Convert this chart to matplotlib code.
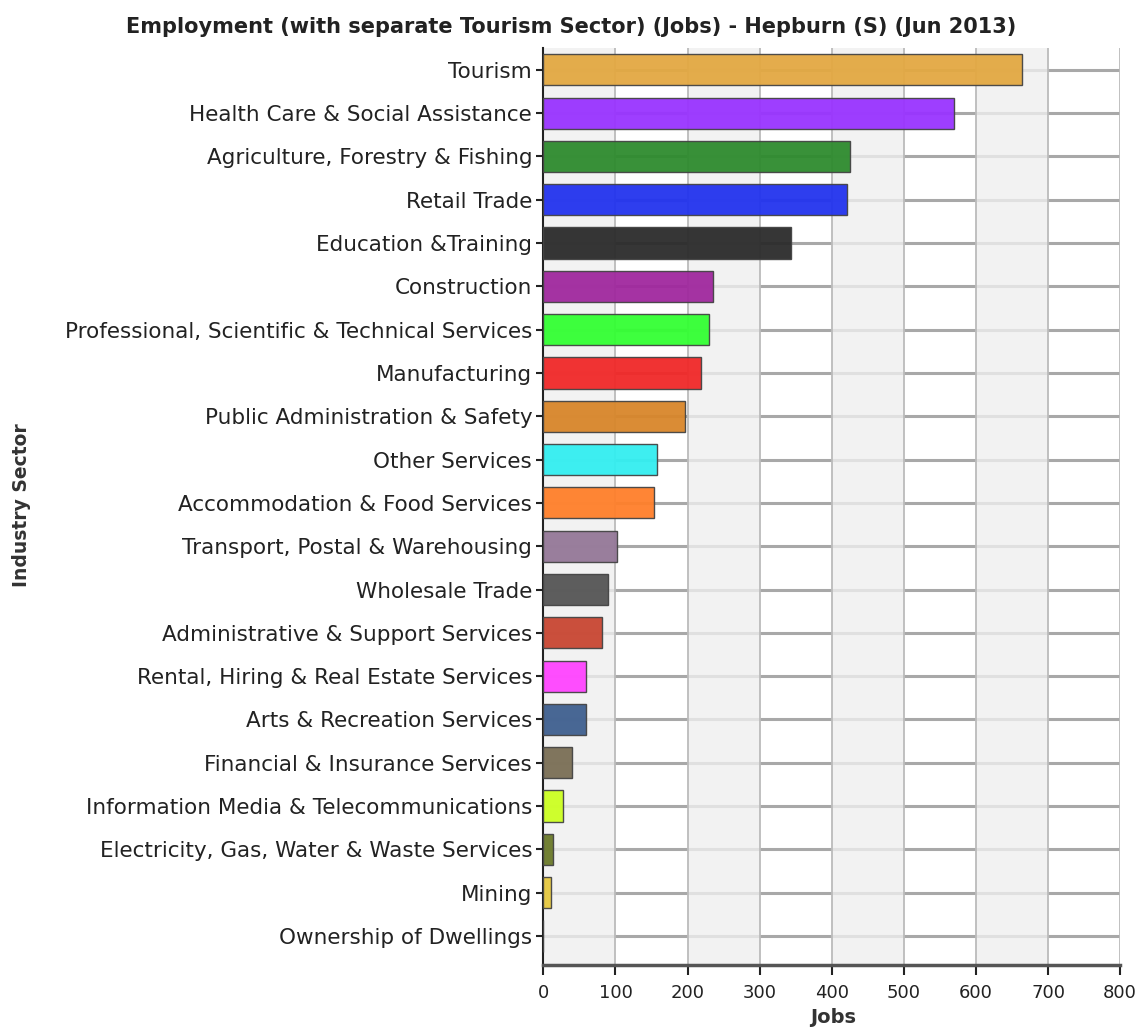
import matplotlib
matplotlib.use("Agg")
import matplotlib.pyplot as plt
import numpy as np

plt.rcParams['font.family'] = ['DejaVu Sans']

# jobs per industry sector, Hepburn (S), June 2013
sectors = [
    "Tourism",
    "Health Care & Social Assistance",
    "Agriculture, Forestry & Fishing",
    "Retail Trade",
    "Education &Training",
    "Construction",
    "Professional, Scientific & Technical Services",
    "Manufacturing",
    "Public Administration & Safety",
    "Other Services",
    "Accommodation & Food Services",
    "Transport, Postal & Warehousing",
    "Wholesale Trade",
    "Administrative & Support Services",
    "Rental, Hiring & Real Estate Services",
    "Arts & Recreation Services",
    "Financial & Insurance Services",
    "Information Media & Telecommunications",
    "Electricity, Gas, Water & Waste Services",
    "Mining",
    "Ownership of Dwellings",
]
jobs = [664, 569, 426, 421, 344, 236, 230, 219, 197, 157, 154,
        102, 89, 81, 59, 59, 40, 27, 13, 10, 0]
colours = [
    "#E3A842", "#9933FF", "#2E8B2E", "#2233EE", "#2B2B2B", "#A0289E",
    "#33FF33", "#F02828", "#D8862A", "#33EEF0", "#FF7F2A", "#947898",
    "#555555", "#C84632", "#FF44FF", "#3F5F8F", "#7A6E55", "#CCFF22",
    "#6B7A2A", "#E6C840", "#FFFFFF",
]
xticks = [0, 100, 200, 300, 400, 500, 600, 700, 800]

fig = plt.figure(figsize=(11.36, 10.29), dpi=100)
ax = fig.add_axes([0.4783, 0.0622, 0.5077, 0.891])

y = np.arange(len(sectors))

# row lines sit under the shaded columns so they fade inside them
for yy in y:
    ax.axhline(yy, color="#A8A8A8", lw=2.2, zorder=0.5)
for i in range(0, len(xticks) - 1, 2):
    ax.axvspan(xticks[i], xticks[i + 1], color="#EFEFEF", alpha=0.8, lw=0, zorder=1)
for x in xticks[1:]:
    ax.axvline(x, color="#BBBBBB", lw=1.3, zorder=1.5)

ax.barh(y, jobs, height=0.72, color=colours, edgecolor="#444444",
        linewidth=1.0, alpha=0.95, zorder=3)

ax.set_xlim(0, 800)
ax.set_ylim(len(sectors) - 0.33, -0.5)
ax.set_xticks(xticks)
ax.set_xticklabels([str(v) for v in xticks], fontsize=13, color="#222222")
ax.set_yticks(y)
ax.set_yticklabels(sectors, fontsize=15.5, color="#222222")
ax.tick_params(axis="y", length=5, width=1.5, color="#222222", pad=3)
ax.tick_params(axis="x", length=7, width=1.5, color="#222222", pad=7)

for side in ["top", "right"]:
    ax.spines[side].set_visible(False)
ax.spines["left"].set_color("#222222")
ax.spines["left"].set_linewidth(1.5)
ax.spines["bottom"].set_color("#555555")
ax.spines["bottom"].set_linewidth(2.5)

fig.text(0.733, 0.0205, "Jobs", fontsize=14, fontweight="bold", color="#333333",
         ha="center", va="top")
fig.text(0.019, 0.509, "Industry Sector", rotation=90, fontsize=13.5,
         fontweight="bold", color="#333333", ha="center", va="center")
fig.text(0.5026, 0.968, "Employment (with separate Tourism Sector) (Jobs) - Hepburn (S) (Jun 2013)",
         fontsize=15, fontweight="bold", color="#222222", ha="center", va="baseline")

fig.savefig("out.png", dpi=100)
